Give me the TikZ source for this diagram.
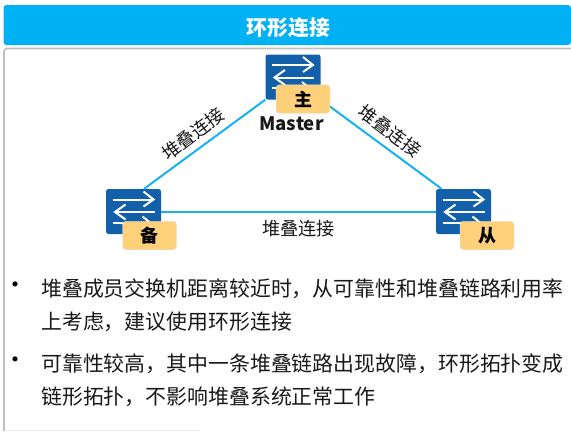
\documentclass[tikz,border=0pt]{standalone}
\usepackage{fontspec}
\setmainfont{Noto Sans CJK SC}
\usepackage{xcolor}
\usetikzlibrary{positioning,calc}
\definecolor{titleblue}{RGB}{0,178,243}
\definecolor{linkblue}{RGB}{20,178,240}
\definecolor{switchblue}{RGB}{18,96,170}
\definecolor{badgeorange}{RGB}{255,208,122}
\definecolor{framegray}{RGB}{190,190,190}
\definecolor{bodyblack}{RGB}{25,25,25}
\tikzstyle{switchbox} = [draw=none, fill=switchblue, rounded corners=2.5pt, minimum width=55pt, minimum height=45pt, inner sep=0pt]
\tikzstyle{badge} = [fill=badgeorange, draw=white!80!gray, line width=0.4pt, rounded corners=3.5pt, minimum width=54pt, minimum height=28.5pt, inner sep=0pt, font=\fontsize{18}{18}\selectfont\bfseries, text=black]
\tikzstyle{link} = [linkblue, line width=2pt]
\tikzstyle{linklabel} = [font=\fontsize{18.2}{18}\selectfont, text=bodyblack, inner sep=0pt]
\tikzstyle{bodytext} = [anchor=west, font=\fontsize{20.9}{21}\selectfont, text=bodyblack, inner sep=0pt]
\tikzstyle{bulletmark} = [font=\fontsize{24}{24}\selectfont, text=black, inner sep=0pt]
\tikzstyle{iconline} = [white, line width=2pt]

\begin{document}
\begin{tikzpicture}[x=1pt,y=-1pt]
\useasboundingbox (0,0) rectangle (571,432);
% frame and title
\draw[framegray!30, line width=0.8pt] (4,430.7) -- (200,430.7);
\draw[framegray, line width=1.6pt, rounded corners=3pt] (571,48.5) -- (4,48.5) -- (4,431);
\fill[titleblue, rounded corners=3pt] (3.5,5) -- (3.5,45) -- (571,45) -- (571,5) -- cycle;
\node[font=\fontsize{20.8}{20}\selectfont\bfseries, text=white, inner sep=0pt] (titletext) at (288.5,27.5) {环形连接};
% switches
\node[switchbox] (swtop) at (293,77) {};
\node[switchbox] (swleft) at (133.5,211.5) {};
\node[switchbox] (swright) at (463.5,211.5) {};
\draw[link] (swtop.south west) -- (swleft.65);
\draw[link] (swtop.south east) -- (swright.134);
\draw[link] (swleft.east) -- (swright.west);
\foreach \sw in {swtop,swleft,swright}{
\draw[iconline] ($(\sw)+(-21,-12)$) -- ($(\sw)+(19,-12)$);
\draw[iconline] ($(\sw)+(10,-20)$) -- ($(\sw)+(20,-12)$) -- ($(\sw)+(10,-5)$);
\draw[iconline] ($(\sw)+(-18,0.5)$) -- ($(\sw)+(21,0.5)$);
\draw[iconline] ($(\sw)+(-8,-7)$) -- ($(\sw)+(-18.5,0.5)$) -- ($(\sw)+(-8,8)$);
\draw[iconline] ($(\sw)+(-21,11)$) -- ($(\sw)+(0,11)$);
\draw[iconline] ($(\sw)+(9,5)$) -- ($(\sw)+(19,13)$);
}
\node[badge] (badgetop) at (303,99) {主};
\node[badge] (badgeleft) at (149.5,235.5) {备};
\node[badge] (badgeright) at (487,235.5) {从};
\node[font=\fontsize{18.6}{18}\selectfont\bfseries, text=bodyblack, inner sep=0pt] (master) at (291.5,124) {Master};
% link labels
\node[linklabel, rotate=37] (labelleft) at (193,134) {堆叠连接};
\node[linklabel, rotate=-37] (labelright) at (390,131) {堆叠连接};
\node[linklabel] (labelbottom) at (298.5,229) {堆叠连接};
% bullet text
\node[bulletmark] (bulletone) at (15.7,287.5) {•};
\node[bodytext] (lineone) at (41,288.5) {堆叠成员交换机距离较近时，从可靠性和堆叠链路利用率};
\node[bodytext] (linetwo) at (41,321.5) {上考虑，建议使用环形连接};
\node[bulletmark] (bullettwo) at (15.7,363) {•};
\node[bodytext] (linethree) at (41,363.5) {可靠性较高，其中一条堆叠链路出现故障，环形拓扑变成};
\node[bodytext] (linefour) at (41,396.5) {链形拓扑，不影响堆叠系统正常工作};
\end{tikzpicture}
\end{document}
